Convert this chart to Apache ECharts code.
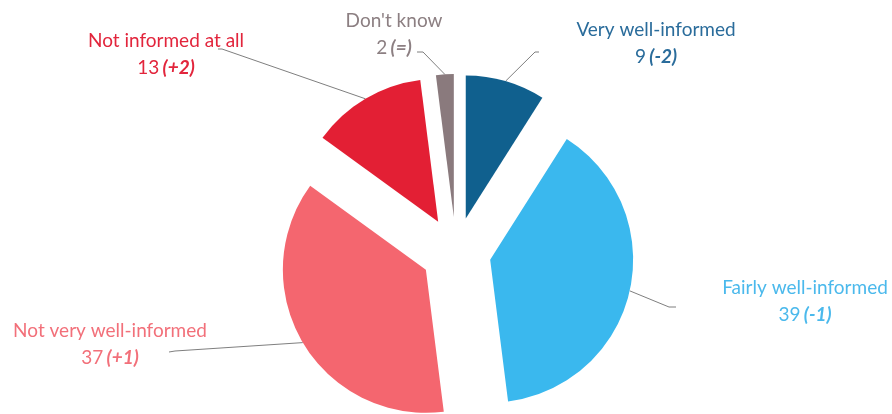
<!DOCTYPE html>
<html>
<head>
<meta charset="utf-8">
<script src="https://cdn.jsdelivr.net/npm/echarts@6/dist/echarts.min.js"></script>
<style>
  html, body { margin: 0; padding: 0; background: #ffffff; }
  #chart { width: 892px; height: 414px; }
</style>
</head>
<body>
<div id="chart"></div>
<script>
// Survey answers, share of respondents (%) and change since previous wave
const categories = ['Very well-informed', 'Fairly well-informed', 'Not very well-informed', 'Not informed at all', "Don't know"];
const shares = [9, 39, 37, 13, 2];
const changes = ['-2', '-1', '+1', '+2', '='];

// Styling per answer
const sliceColors = ['#10608e', '#3ab8ee', '#f4666f', '#e31f34', '#8a7a7d'];
const textColors = ['#2a6c9b', '#4bb9ec', '#f2707a', '#e2253c', '#8c7f82'];

// Where each label block sits, plus the bend and end of its guide line
const labelSpots = [
  { x: 656, y: 43, bend: [535, 52], end: [539, 52] },
  { x: 805, y: 301, bend: [669, 307], end: [676, 307] },
  { x: 110, y: 344, bend: [175, 351], end: [169, 352] },
  { x: 166, y: 54, bend: [222, 49], end: [218, 49] },
  { x: 394, y: 34, bend: [423, 52], end: [417, 52] }
];

const PIE_CENTER = [456, 252];
const PIE_RADIUS = 143;
const EXPLODE = 35;

// Each slice is pulled out from the centre along its own mid angle
const total = shares.reduce((a, b) => a + b, 0);
const sliceShift = [];
let acc = 0;
shares.forEach(v => {
  const mid = -Math.PI / 2 + 2 * Math.PI * (acc + v / 2) / total;
  sliceShift.push([Math.cos(mid) * EXPLODE, Math.sin(mid) * EXPLODE]);
  acc += v;
});

function richFor(i) {
  const c = textColors[i];
  return {
    n: { color: c, fontSize: 19, lineHeight: 27, fontFamily: 'Lato' },
    c: { color: c, fontSize: 19, lineHeight: 27, fontFamily: 'Lato', fontStyle: 'italic', fontWeight: 'bold' }
  };
}

// One pie per answer: the whole ring is laid out, only that answer's slice is painted
const series = categories.map((_, k) => ({
  type: 'pie',
  center: [PIE_CENTER[0] + sliceShift[k][0], PIE_CENTER[1] + sliceShift[k][1]],
  radius: PIE_RADIUS,
  startAngle: 90,
  clockwise: true,
  avoidLabelOverlap: false,
  emphasis: { disabled: true },
  silent: true,
  label: {
    show: true,
    position: 'outside',
    formatter: p => '{n|' + p.name + '}\n{n|' + p.value + '} {c|(' + changes[p.dataIndex] + ')}',
    rich: richFor(k)
  },
  labelLine: {
    show: true,
    lineStyle: { color: '#7f7f7f', width: 1 }
  },
  labelLayout: params => {
    if (params.dataIndex !== k) return {};
    const spot = labelSpots[k];
    const out = { x: spot.x, y: spot.y, align: 'center', verticalAlign: 'middle' };
    if (params.labelLinePoints && params.labelLinePoints.length) {
      out.labelLinePoints = [params.labelLinePoints[0], spot.bend, spot.end];
    }
    return out;
  },
  data: categories.map((name, i) => ({
    name: name,
    value: shares[i],
    itemStyle: i === k ? { color: sliceColors[i] } : { color: 'rgba(0,0,0,0)' },
    label: { show: i === k },
    labelLine: { show: i === k }
  }))
}));

const chart = echarts.init(document.getElementById('chart'), null, { renderer: 'canvas' });
chart.setOption({
  backgroundColor: '#ffffff',
  animation: false,
  series: series
});
</script>
</body>
</html>
